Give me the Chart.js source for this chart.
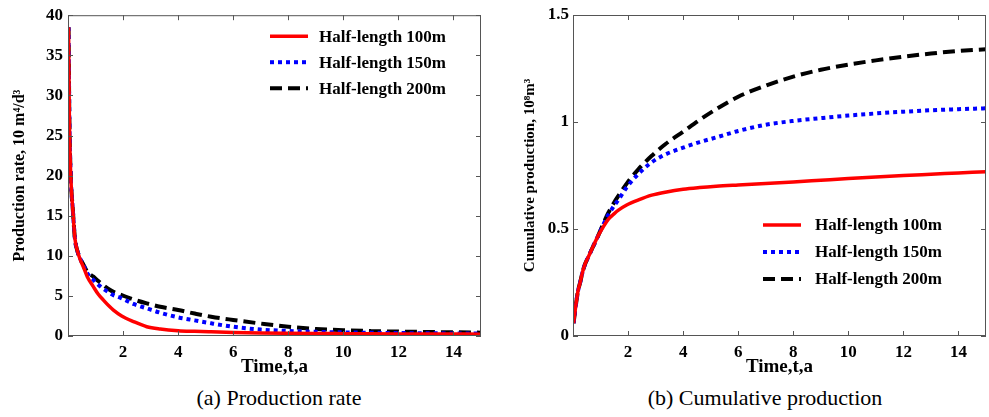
<!DOCTYPE html>
<html>
<head>
<meta charset="utf-8">
<script src="https://cdn.jsdelivr.net/npm/chart.js@4.4.1/dist/chart.umd.min.js"></script>
<style>
  body { margin: 0; width: 989px; height: 417px; background: #fff; position: relative; overflow: hidden; }
  .box { position: absolute; top: 0; height: 380px; }
  #left { left: 0; width: 495px; }
  #right { left: 495px; width: 494px; }
  .cap { position: absolute; top: 385px; font-family: "Liberation Serif", serif; font-size: 22px; color: #000; white-space: nowrap; transform: translateX(-50%); }
</style>
</head>
<body>
<div class="box" id="left"><canvas id="rateChart"></canvas></div>
<div class="box" id="right"><canvas id="cumChart"></canvas></div>
<div class="cap" style="left:279px">(a) Production rate</div>
<div class="cap" style="left:765px">(b) Cumulative production</div>

<script>
// time, years
const years = [0.02, 0.05, 0.1, 0.18, 0.25, 0.35, 0.45, 0.56, 0.7, 0.92, 1.1, 1.28, 1.5, 1.65, 1.95,
  2.38, 2.86, 3.35, 4, 4.6, 5.2, 6, 7, 8, 9, 10, 11, 12, 13, 14, 15];

const labels = ['Half-length 100m', 'Half-length 150m', 'Half-length 200m'];

// production rate, 10^4 m3/d
const rate100 = [38.5, 27, 20, 15.5, 12.2, 10.5, 9.5, 8.6, 7.4, 6.15, 5.2, 4.5, 3.7, 3.24, 2.5,
  1.8, 1.16, 0.87, 0.66, 0.58, 0.52, 0.45, 0.38, 0.34, 0.31, 0.29, 0.27, 0.26, 0.25, 0.24, 0.23];
const rate150 = [38.5, 27, 20, 15.5, 12.2, 10.5, 9.6, 8.8, 7.8, 7.0, 6.4, 5.9, 5.4, 5.1, 4.7,
  4.0, 3.45, 2.9, 2.33, 1.95, 1.58, 1.15, 0.8, 0.63, 0.52, 0.45, 0.4, 0.37, 0.34, 0.32, 0.3];
const rate200 = [38.5, 27, 20, 15.5, 12.2, 10.5, 9.6, 8.9, 8.0, 7.4, 6.85, 6.35, 5.8, 5.5, 5.1,
  4.55, 4.07, 3.65, 3.24, 2.8, 2.4, 2.0, 1.55, 1.15, 0.88, 0.72, 0.62, 0.55, 0.5, 0.46, 0.42];

// cumulative production, 10^8 m3
const cum100 = [0.06, 0.09, 0.14, 0.21, 0.245, 0.3, 0.34, 0.37, 0.41, 0.47, 0.51, 0.545, 0.572, 0.588, 0.612,
  0.636, 0.658, 0.672, 0.686, 0.694, 0.7, 0.706, 0.713, 0.72, 0.728, 0.736, 0.743, 0.75, 0.756, 0.762, 0.768];
const cum150 = [0.06, 0.09, 0.14, 0.21, 0.245, 0.3, 0.34, 0.37, 0.41, 0.47, 0.52, 0.565, 0.61, 0.636, 0.695,
  0.758, 0.812, 0.848, 0.88, 0.906, 0.928, 0.958, 0.987, 1.005, 1.018, 1.03, 1.04, 1.048, 1.055, 1.06, 1.064];
const cum200 = [0.06, 0.09, 0.14, 0.21, 0.245, 0.3, 0.34, 0.37, 0.41, 0.47, 0.525, 0.575, 0.625, 0.655, 0.712,
  0.78, 0.842, 0.896, 0.955, 1.01, 1.06, 1.118, 1.17, 1.212, 1.244, 1.268, 1.288, 1.305, 1.32, 1.332, 1.34];

const xTicks = [2, 4, 6, 8, 10, 12, 14];
const rateTicks = [0, 5, 10, 15, 20, 25, 30, 35, 40];
const cumTicks = [0, 0.5, 1, 1.5];

const SERIF = '"Liberation Serif", "Times New Roman", serif';
const styles = [
  { borderColor: '#ff0000', borderWidth: 3.5, borderDash: [] },
  { borderColor: '#0000ff', borderWidth: 4, borderDash: [4, 4] },
  { borderColor: '#000000', borderWidth: 4, borderDash: [12, 6] }
];

function series(list) {
  return list.map((vals, i) => ({
    label: labels[i],
    data: years.map((t, k) => ({ x: t, y: vals[k] })),
    ...styles[i],
    pointRadius: 0,
    fill: false,
    cubicInterpolationMode: 'monotone'
  }));
}

// box round the plot with inward ticks on every side
const frameTicks = {
  id: 'frameTicks',
  afterDatasetsDraw(chart) {
    const { ctx, chartArea: a, scales: { x, y } } = chart;
    const len = 5;
    ctx.save();
    ctx.strokeStyle = '#555';
    ctx.lineWidth = 1;
    ctx.setLineDash([]);
    ctx.strokeRect(a.left + 0.5, a.top + 0.5, a.width - 1, a.height - 1);
    ctx.beginPath();
    x.ticks.forEach(t => {
      const px = Math.round(x.getPixelForValue(t.value)) + 0.5;
      ctx.moveTo(px, a.bottom); ctx.lineTo(px, a.bottom - len);
      ctx.moveTo(px, a.top); ctx.lineTo(px, a.top + len);
    });
    y.ticks.forEach(t => {
      const py = Math.round(y.getPixelForValue(t.value)) + 0.5;
      ctx.moveTo(a.left, py); ctx.lineTo(a.left + len, py);
      ctx.moveTo(a.right, py); ctx.lineTo(a.right - len, py);
    });
    ctx.stroke();
    ctx.restore();
  }
};

// legend drawn inside the plot area
const inLegend = {
  id: 'inLegend',
  afterDatasetsDraw(chart, args, opts) {
    const { ctx, chartArea: a } = chart;
    ctx.save();
    chart.data.datasets.forEach((ds, i) => {
      const x0 = a.left + opts.dx;
      const y0 = a.top + opts.dy + i * opts.gap;
      ctx.beginPath();
      ctx.strokeStyle = ds.borderColor;
      ctx.lineWidth = ds.borderWidth;
      ctx.setLineDash(ds.borderDash);
      ctx.moveTo(x0, y0);
      ctx.lineTo(x0 + opts.len, y0);
      ctx.stroke();
      ctx.setLineDash([]);
      ctx.fillStyle = '#000';
      ctx.font = 'bold 17px ' + SERIF;
      ctx.textBaseline = 'middle';
      ctx.fillText(ds.label, x0 + opts.len + opts.textGap, y0 + 1);
    });
    ctx.restore();
  }
};

function makeChart(id, datasets, yMax, yTickList, yTitle, o) {
  return new Chart(document.getElementById(id), {
    type: 'line',
    data: { datasets },
    plugins: [frameTicks, inLegend],
    options: {
      responsive: true,
      maintainAspectRatio: false,
      animation: false,
      layout: { padding: { top: 15, right: o.padRight, left: 0, bottom: 0 } },
      plugins: {
        legend: { display: false },
        tooltip: { enabled: false },
        inLegend: o.legend
      },
      scales: {
        x: {
          type: 'linear',
          min: 0,
          max: 15,
          afterBuildTicks: s => { s.ticks = xTicks.map(v => ({ value: v })); },
          afterFit: s => { s.height = 44; },
          grid: { display: false, drawTicks: false },
          border: { display: false },
          ticks: { color: '#000', padding: 6, maxRotation: 0, callback: v => String(v),
            font: { family: SERIF, size: 17, weight: 'bold' } },
          title: {
            display: true, text: 'Time,t,a', color: '#000',
            font: { family: SERIF, size: 19, weight: 'bold' },
            padding: { top: 0, bottom: 2 }
          }
        },
        y: {
          min: 0,
          max: yMax,
          afterBuildTicks: s => { s.ticks = yTickList.map(v => ({ value: v })); },
          afterFit: s => { s.width = o.yWidth; },
          grid: { display: false, drawTicks: false },
          border: { display: false },
          ticks: { color: '#000', padding: o.tickPad, callback: v => String(v),
            font: { family: SERIF, size: 17, weight: 'bold' } },
          title: {
            display: true, text: yTitle, color: '#000',
            font: { family: SERIF, size: o.titleSize, weight: 'bold' },
            padding: { top: o.titlePad, bottom: 0 }
          }
        }
      }
    }
  });
}

makeChart('rateChart', series([rate100, rate150, rate200]), 40, rateTicks,
  'Production rate, 10 m⁴/d³',
  { padRight: 14, yWidth: 68, tickPad: 5, titleSize: 16, titlePad: 10,
    legend: { dx: 202, dy: 21, gap: 26, len: 38, textGap: 11 } });

makeChart('cumChart', series([cum100, cum150, cum200]), 1.5, cumTicks,
  'Cumulative production, 10⁸m³',
  { padRight: 3, yWidth: 78, tickPad: 4, titleSize: 15, titlePad: 26,
    legend: { dx: 190, dy: 210, gap: 27, len: 38, textGap: 14 } });
</script>
</body>
</html>
